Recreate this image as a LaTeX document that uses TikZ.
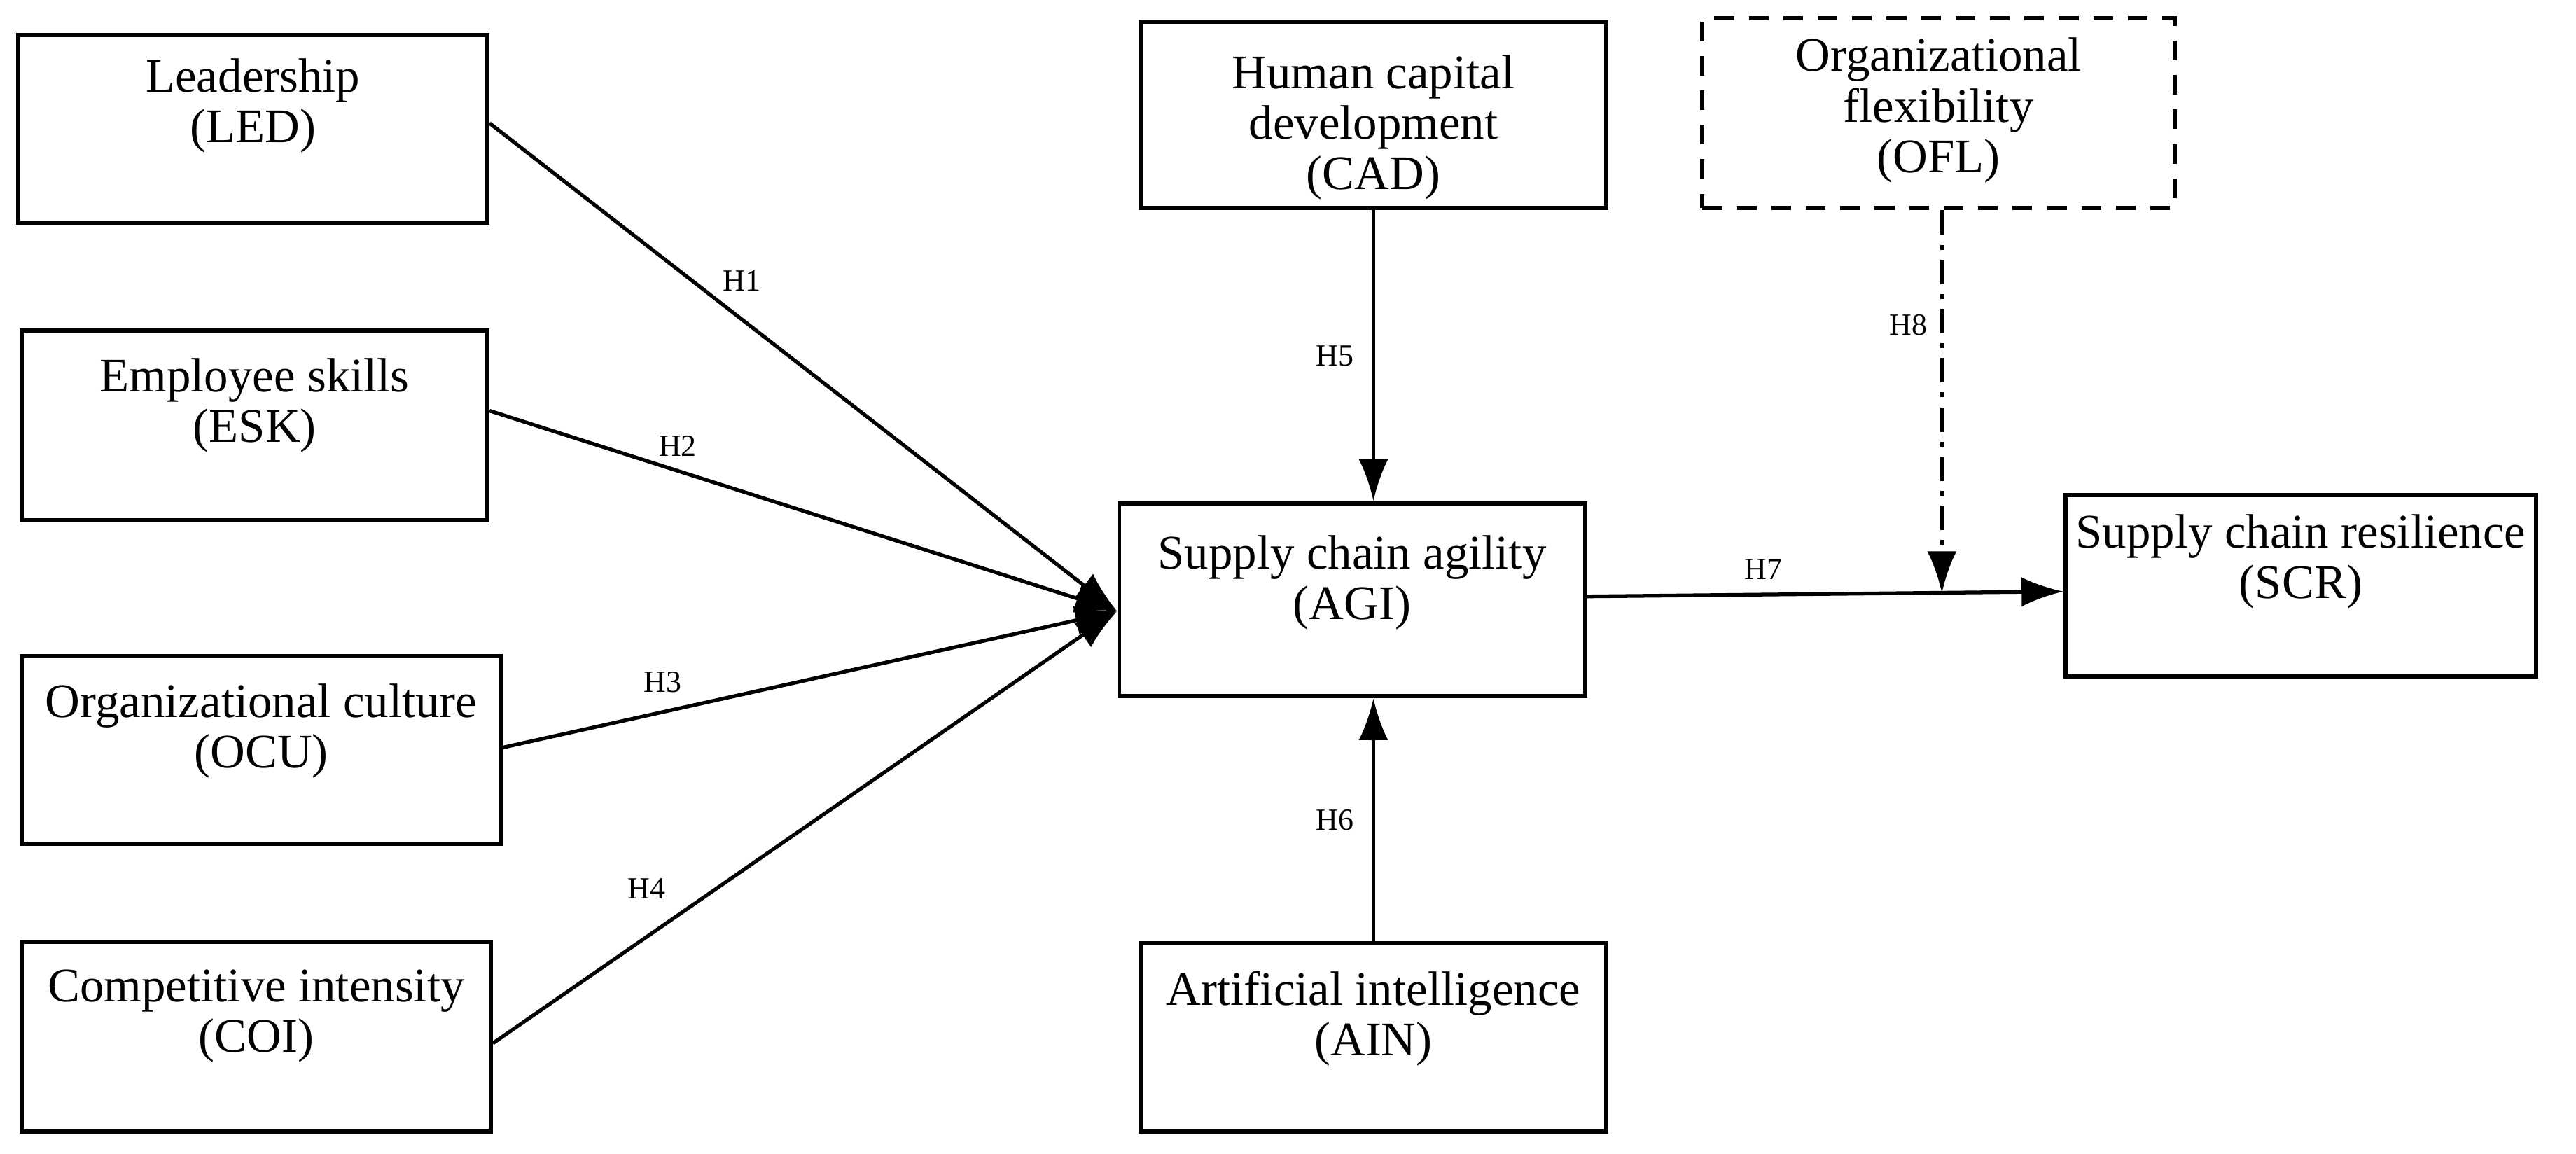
\documentclass[tikz,border=0pt]{standalone}
\usepackage{fontspec}
\setmainfont{Liberation Serif}
\usetikzlibrary{arrows.meta}
\begin{document}
\begin{tikzpicture}[x=0.2346cm,y=-0.2346cm,
 txt/.style={anchor=north,align=center,font=\fontsize{19.6}{20.5}\selectfont,inner sep=0},
 lab/.style={font=\fontsize{12.5}{13}\selectfont},
 arr/.style={line width=1.5pt,-{Latex[length=17pt,width=12pt]}}]
\useasboundingbox (0,0) rectangle (156.8,70.2);
\def\bx#1#2#3#4#5#6{\node[draw,line width=1.7pt,minimum width=#4*0.2346cm-1.7pt,minimum height=#5*0.2346cm-1.7pt,inner sep=0,#6] (#1) at (#2+#4/2,#3+#5/2) {};}
\bx{led}{1.0}{2.0}{28.8}{11.7}{}
\bx{esk}{1.2}{20.0}{28.6}{11.8}{}
\bx{ocu}{1.2}{39.8}{29.4}{11.7}{}
\bx{coi}{1.2}{57.2}{28.8}{11.8}{}
\bx{cad}{69.3}{1.2}{28.6}{11.6}{}
\bx{ofl}{103.5}{1.0}{29.0}{11.8}{dashed,dash pattern=on 8pt off 6pt}
\bx{agi}{68.0}{30.5}{28.6}{12.0}{}
\bx{scr}{125.6}{30.0}{28.9}{11.3}{}
\bx{ain}{69.3}{57.3}{28.6}{11.7}{}
\node[txt] at ([yshift=-0.36cm]led.north) {Leadership\\(LED)};
\node[txt] at ([yshift=-0.42cm]esk.north) {Employee skills\\(ESK)};
\node[txt] at ([yshift=-0.42cm]ocu.north) {Organizational culture\\(OCU)};
\node[txt] at ([yshift=-0.42cm]coi.north) {Competitive intensity\\(COI)};
\node[txt] at ([yshift=-0.5cm]cad.north) {Human capital\\development\\(CAD)};
\node[txt] at ([yshift=-0.3cm]ofl.north) {Organizational\\flexibility\\(OFL)};
\node[txt] at ([yshift=-0.48cm]agi.north) {Supply chain agility\\(AGI)};
\node[txt] at ([yshift=-0.3cm]scr.north) {Supply chain resilience\\(SCR)};
\node[txt] at ([yshift=-0.42cm]ain.north) {Artificial intelligence\\(AIN)};
\coordinate (tip) at (68.0,37.2);
\draw[arr] (led.east|-0,7.5) -- (tip) node[lab,pos=0.36,above right=-1pt] {H1};
\draw[arr] (esk.east|-0,25.0) -- (tip) node[lab,pos=0.3,above=2pt] {H2};
\draw[arr] (ocu.east|-0,45.5) -- (tip) node[lab,pos=0.26,above=4pt] {H3};
\draw[arr] (coi.east|-0,63.5) -- (tip) node[lab,pos=0.3,above left=2pt] {H4};
\draw[arr] (cad.south) -- (agi.north-|cad.south) node[lab,midway,left=4pt] {H5};
\draw[arr] (ain.north) -- (agi.south-|ain.north) node[lab,midway,left=4pt] {H6};
\draw[arr] (agi.east|-0,36.3) -- (scr.west|-0,36.0) node[lab,pos=0.37,above=2pt] {H7};
\coordinate (m) at (118.2,36.1);
\draw[arr,dash pattern=on 10pt off 4pt on 2pt off 4pt] (ofl.south-|m) -- (m) node[lab,pos=0.3,left=2pt] {H8};
\end{tikzpicture}
\end{document}
